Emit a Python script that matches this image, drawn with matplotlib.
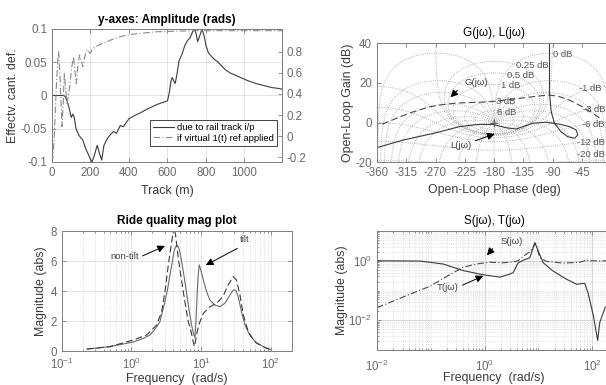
import numpy as np
import matplotlib
matplotlib.use('Agg')
import matplotlib.pyplot as plt
from matplotlib.ticker import FixedLocator, NullFormatter, LogLocator

plt.rcParams['font.family'] = ['Liberation Sans', 'DejaVu Sans']
plt.rcParams['axes.unicode_minus'] = False
plt.rcParams['mathtext.fontset'] = 'custom'
plt.rcParams['mathtext.rm'] = 'Liberation Sans'

# ---- data: track response (top left) ----
track_x = [0, 60, 70, 80, 90, 100, 108, 115, 125, 140, 160, 175, 185, 198, 208, 220, 235, 248,
           258, 270, 285, 300, 320, 335, 355, 370, 400, 430, 460, 490, 520, 550, 580, 600,
           610, 618, 625, 632, 640, 648, 660, 675, 690, 705, 718, 728, 738, 748, 757, 768,
           779, 790, 800, 813, 828, 845, 860, 880, 900, 925, 950, 980, 1020, 1060, 1100,
           1140, 1180, 1195]
track_cant = [0, 0, -0.002, -0.01, -0.02, -0.033, -0.028, -0.032, -0.05, -0.06, -0.067, -0.08,
              -0.086, -0.095, -0.1, -0.09, -0.075, -0.088, -0.097, -0.075, -0.066, -0.06,
              -0.054, -0.057, -0.045, -0.047, -0.035, -0.03, -0.026, -0.021, -0.017, -0.013,
              -0.01, -0.008, 0.005, 0.022, 0.027, 0.022, 0.018, 0.03, 0.052, 0.062, 0.075,
              0.083, 0.087, 0.094, 0.1, 0.094, 0.081, 0.09, 0.1, 0.09, 0.075, 0.064, 0.059,
              0.054, 0.051, 0.045, 0.039, 0.034, 0.031, 0.027, 0.022, 0.018, 0.015, 0.012,
              0.0105, 0.0095]
step_x = [0, 5, 12, 22, 30, 34.5, 42, 52, 58, 64, 71, 78, 85, 92, 102, 112, 119, 126, 134,
          143, 151, 160, 170, 181, 190, 199, 212, 225, 250, 285, 330, 389, 460, 545, 640,
          750, 1195]
step_resp = [-0.245, -0.2, 0.0, 0.45, 0.72, 0.8, 0.55, 0.09, 0.3, 0.596, 0.45, 0.31, 0.38,
             0.47, 0.65, 0.754, 0.62, 0.5, 0.66, 0.77, 0.72, 0.66, 0.75, 0.817, 0.8, 0.786,
             0.83, 0.848, 0.87, 0.896, 0.93, 0.96, 0.975, 0.99, 0.995, 1.0, 1.0]
left_ticks = [-0.1, -0.05, 0, 0.05, 0.1]
left_labels = ['-0.1', '-0.05', '0', '0.05', '0.1']
right_ticks = [-0.2, 0, 0.2, 0.4, 0.6, 0.8]
right_labels = ['-0.2', '0', '0.2', '0.4', '0.6', '0.8']

# ---- data: Nichols (top right) ----
g_phase = [-352, -330, -304, -279, -253, -228, -202, -182, -151, -120, -97, -82, -64, -44, -28, -18]
g_gain = [-0.8, 2.2, 5.5, 8.0, 9.4, 10.0, 10.3, 10.7, 11.8, 13.1, 13.9, 13.4, 11.4, 8.0, 4.7, 2.5]
l_phase = [-94.6, -94.6, -92, -87, -77, -66.5, -56, -51, -53.6, -64, -79, -99.7, -120, -135.6,
           -146, -161, -182, -202, -213, -233, -269, -320, -360]
l_gain = [45, 15, 5.5, -0.3, -4.6, -7.1, -7.9, -6.2, -3.7, -2.0, -0.8, 0.2, -0.3, -2.0,
          -3.2, -2.6, -0.9, -0.9, -1.2, -2.0, -5.1, -8.8, -12.6]
grid_db = [6, 3, 1, 0.5, 0.25, 0, -1, -3, -6, -12, -20, -40]
grid_deg = [-1, -5, -10, -20, -30, -45, -60, -90, -120, -150, -180, -210, -240, -270, -300,
            -315, -330, -340, -350, -355, -359]
db_labels = ['0 dB', '0.25 dB', '0.5 dB', '1 dB', '-1 dB', '3 dB', '6 dB', '-3 dB', '-6 dB',
             '-12 dB', '-20 dB']
db_label_phase = [-74.7, -120.7, -138.6, -154, -31.3, -161.7, -160.6, -26, -27.1, -31.3, -31.3]
db_label_gain = [34.6, 28.7, 24.0, 18.5, 17.3, 10.6, 5.0, 6.7, -0.7, -10.1, -16.3]

# ---- data: ride quality (bottom left) ----
tilt_f = [0.23, 0.49, 1.06, 1.5, 1.85, 2.3, 2.57, 3.03, 3.3, 3.58, 3.85, 4.08, 4.3, 4.5, 4.75,
          5.0, 5.3, 5.7, 6.17, 6.7, 7.33, 7.8, 8.17, 8.5, 8.8, 9.1, 9.42, 9.8, 10.8, 12.0, 13.4,
          15.8, 18.7, 22, 26, 29, 31.5, 34.2, 38, 42.6, 50, 63, 88, 100]
tilt_m = [0.13, 0.29, 0.6, 0.85, 1.07, 1.6, 1.96, 3.3, 4.1, 5.08, 5.9, 6.64, 6.95, 7.05, 6.95,
          6.55, 5.9, 5.0, 3.94, 2.8, 1.72, 1.15, 0.9, 2.2, 3.9, 5.1, 5.75, 5.5, 4.75, 3.96, 3.4,
          3.07, 2.96, 3.19, 3.74, 4.08, 4.05, 3.63, 2.63, 1.74, 1.07, 0.51, 0.18, 0.1]
nontilt_f = [0.23, 0.49, 1.06, 1.66, 2.31, 2.72, 3.03, 3.39, 3.79, 4.08, 4.3, 4.71, 5.1, 5.56,
             6.0, 6.56, 7.2, 7.73, 8.0, 8.3, 8.8, 9.64, 10.8, 13.4, 16.7, 20.6, 24.4, 29, 32.2,
             36.2, 40.4, 47.6, 59, 83, 100]
nontilt_m = [0.13, 0.29, 0.73, 1.07, 1.74, 2.63, 3.96, 5.75, 7.3, 8.3, 7.8, 6.2, 5.1, 3.96,
             3.0, 1.96, 1.3, 0.6, 0.3, 0.6, 1.3, 1.96, 2.52, 2.96, 3.19, 3.63, 4.41, 4.97, 4.75,
             3.74, 2.41, 1.29, 0.62, 0.22, 0.1]

# ---- data: S and T (bottom right) ----
s_f = [0.01, 0.0304, 0.0955, 0.224, 0.398, 0.7, 1.23, 2.17, 3.31, 4.17, 5.13, 6.92, 7.76,
       8.61, 9.12, 10, 10.7, 14, 28.5, 58.3, 72.4, 77.6, 85.1, 102, 250]
s_m = [0.0263, 0.0603, 0.138, 0.339, 0.603, 0.776, 0.891, 0.851, 0.912, 1.0, 1.38, 2.0, 2.63,
       3.98, 3.55, 1.78, 1.26, 0.955, 0.832, 0.891, 1.0, 1.1, 0.977, 1.0, 1.0]
t_f = [0.01, 0.063, 0.17, 0.398, 0.933, 1.93, 2.92, 3.39, 3.98, 4.22, 5.25, 6.92, 7.94, 8.61,
       9.93, 12.3, 18.8, 33.1, 51.3, 63.1, 72.4, 83.2, 105, 126, 138, 174, 250]
t_m = [1.0, 0.977, 0.776, 0.468, 0.339, 0.282, 0.355, 0.398, 0.708, 0.851, 1.047, 1.26, 2.69,
       3.98, 2.09, 0.851, 0.447, 0.24, 0.162, 0.17, 0.174, 0.085, 0.0141, 0.0021, 0.0085,
       0.0269, 0.045]

AX_COL = '#7f7f7f'
TICK_COL = '#6a6a6a'
LAB_COL = '#3a3a3a'
GRID_COL = '#dedede'
FS = 8.3
SMALL = 6.8

W, H = 606.0, 385.0


def box(l, t, r, b):
    return [l / W, 1 - b / H, (r - l) / W, (b - t) / H]


def style(ax):
    for s in ax.spines.values():
        s.set_color(AX_COL)
        s.set_linewidth(0.7)
    ax.tick_params(which='both', direction='in', colors=AX_COL, labelcolor=TICK_COL,
                   labelsize=FS, top=True, right=True, width=0.6)
    ax.tick_params(which='major', length=3)
    ax.tick_params(which='minor', length=1.5)
    ax.set_axisbelow(True)


def arrow(ax, txt, text_xy, tail, head):
    ax.text(text_xy[0], text_xy[1], txt, fontsize=SMALL, color='#404040', ha='center', va='center')
    ax.annotate('', xy=head, xytext=tail,
                arrowprops=dict(arrowstyle='-|>', color='k', lw=0.7, mutation_scale=11))


fig = plt.figure(figsize=(6.06, 3.85), dpi=100)

# ---------- top left ----------
ax1 = fig.add_axes(box(52, 29, 282, 162))
style(ax1)
ax1.tick_params(right=False)
l1, = ax1.plot(track_x, track_cant, '-', color='#3c3c3c', lw=0.8)
ax1.set_xlim(0, 1195)
ax1.set_ylim(-0.1, 0.1)
ax1.set_xticks([0, 200, 400, 600, 800, 1000])
ax1.set_yticks(left_ticks)
ax1.set_yticklabels(left_labels)
ax1.grid(True, color=GRID_COL, lw=0.6)
ax1.set_title('y-axes: Amplitude (rads)', fontsize=FS + 0.2, fontweight='bold', pad=4)
ax1.set_xlabel('Track (m)', fontsize=FS + 0.6, color=LAB_COL)
ax1.set_ylabel('Effectv. cant. def.', fontsize=FS + 0.6, color=LAB_COL)
ax1.yaxis.set_label_coords(-0.143, 0.5)
ax1.xaxis.set_label_coords(0.5, -0.17)
ax1r = ax1.twinx()
style(ax1r)
ax1r.tick_params(left=False, top=False)
l2, = ax1r.plot(step_x, step_resp, linestyle=(0, (6, 2, 1, 2)), color='#8a8a8a', lw=0.8)
ax1r.set_ylim(-0.245, 1.016)
ax1r.set_yticks(right_ticks)
ax1r.set_yticklabels(right_labels)
leg = ax1r.legend([l1, l2], ['due to rail track i/p', 'if virtual 1(t) ref applied'],
                  loc='lower right', bbox_to_anchor=(0.977, 0.12), borderaxespad=0,
                  fontsize=SMALL, fancybox=False, framealpha=1, edgecolor='#262626',
                  handlelength=2.2, labelspacing=0.2, borderpad=0.35, handletextpad=0.3)
leg.get_frame().set_linewidth(0.6)

# ---------- top right: Nichols ----------
ax2 = fig.add_axes(box(377, 43.3, 611, 162.3))
style(ax2)
for db in grid_db:
    m = 10 ** (db / 20.0)
    th = np.radians(np.linspace(-359.999, -0.001, 2000))
    T = m * np.exp(1j * th)
    if abs(m - 1) < 1e-9:
        th = np.radians(np.linspace(-359.5, -0.5, 2000))
        T = np.exp(1j * th)
    L = T / (1 - T)
    ph = np.degrees(np.unwrap(np.angle(L)))
    if m > 1:
        ph = ph - 360 * np.round((ph.mean() + 180) / 360)
    else:
        ph = ph - 360 * np.floor((ph.max() + 1e-6) / 360) - (360 if ph.max() > 1e-3 else 0)
    ax2.plot(ph, 20 * np.log10(np.abs(L)), ':', color='#9a9a9a', lw=0.6)
for deg in grid_deg:
    r = np.logspace(-3, 3, 2000)
    T = r * np.exp(1j * np.radians(deg))
    L = T / (1 - T)
    ph = np.degrees(np.unwrap(np.angle(L)))
    ph = ph - 360 * np.round((ph[-1] + 180) / 360)
    ax2.plot(ph, 20 * np.log10(np.abs(L)), ':', color='#9a9a9a', lw=0.6)
ax2.plot(g_phase, g_gain, '--', color='#4a4a4a', lw=0.8, dashes=(6, 3))
ax2.plot(l_phase, l_gain, '-', color='#3a3a3a', lw=0.8)
ax2.plot([-180], [0], '+', color='#606060', ms=6, mew=0.7)
for txt, px, py in zip(db_labels, db_label_phase, db_label_gain):
    ax2.text(px, py, txt, fontsize=SMALL, color='#555555', ha='center', va='center')
arrow(ax2, 'G(j\u03c9)', (-207.7, 20.1), (-233, 17.3), (-250, 11.8))
arrow(ax2, 'L(j\u03c9)', (-230.7, -11.3), (-212.7, -9.6), (-175, -5.2))
ax2.set_xlim(-360, 0)
ax2.set_ylim(-20, 40)
ax2.set_xticks(np.arange(-360, 1, 45))
ax2.set_yticks([-20, 0, 20, 40])
ax2.set_title('G(j\u03c9), L(j\u03c9)', fontsize=FS + 0.2, pad=5)
ax2.set_xlabel('Open-Loop Phase (deg)', fontsize=FS + 0.6, color=LAB_COL)
ax2.set_ylabel('Open-Loop Gain (dB)', fontsize=FS + 0.6, color=LAB_COL)
ax2.xaxis.set_label_coords(0.5, -0.18)
ax2.yaxis.set_label_coords(-0.098, 0.5)

# ---------- bottom left ----------
ax3 = fig.add_axes(box(61.7, 231.3, 291.7, 351))
style(ax3)
ax3.semilogx(tilt_f, tilt_m, '-', color='#6a6a6a', lw=0.8)
ax3.semilogx(nontilt_f, nontilt_m, '--', color='#3a3a3a', lw=0.8, dashes=(6, 3))
ax3.set_xlim(0.1, 200)
ax3.set_ylim(0, 8)
ax3.set_yticks([0, 2, 4, 6, 8])
ax3.xaxis.set_minor_locator(LogLocator(base=10, subs=np.arange(2, 10)))
ax3.xaxis.set_minor_formatter(NullFormatter())
ax3.tick_params(axis='x', pad=4.5)
ax3.grid(True, which='major', color=GRID_COL, lw=0.6)
ax3.grid(True, which='minor', axis='x', color='#c8c8c8', lw=0.5, linestyle=':')
arrow(ax3, 'non-tilt', (0.81, 6.33), (1.33, 6.28), (3.3, 7.1))
arrow(ax3, 'tilt', (42.7, 7.44), (36.1, 6.95), (10.8, 5.65))
ax3.set_title('Ride quality mag plot', fontsize=FS + 0.2, fontweight='bold', pad=5)
ax3.set_xlabel('Frequency  (rad/s)', fontsize=FS + 0.6, color=LAB_COL)
ax3.set_ylabel('Magnitude (abs)', fontsize=FS + 0.6, color=LAB_COL)
ax3.xaxis.set_label_coords(0.5, -0.185)
ax3.yaxis.set_label_coords(-0.062, 0.5)

# ---------- bottom right ----------
ax4 = fig.add_axes(box(377, 231, 611, 350))
style(ax4)
ax4.loglog(s_f, s_m, color='#4a4a4a', lw=0.8, linestyle=(0, (6, 2, 1, 2)))
ax4.loglog(t_f, t_m, '-', color='#3a3a3a', lw=0.8)
ax4.set_xlim(0.01, 223)
ax4.set_ylim(1e-3, 10)
ax4.xaxis.set_major_locator(FixedLocator([1e-2, 1, 1e2]))
ax4.yaxis.set_major_locator(FixedLocator([1e-2, 1]))
ax4.xaxis.set_minor_locator(FixedLocator([k * 10.0 ** e for e in range(-2, 3) for k in range(1, 10)
                                          if not (k == 1 and e % 2 == 0)]))
ax4.yaxis.set_minor_locator(FixedLocator([k * 10.0 ** e for e in range(-3, 2) for k in range(1, 10)
                                          if not (k == 1 and e % 2 == 0)]))
ax4.xaxis.set_minor_formatter(NullFormatter())
ax4.yaxis.set_minor_formatter(NullFormatter())
ax4.tick_params(axis='x', pad=6)
ax4.grid(True, which='major', color='#d0d0d0', lw=0.6)
ax4.grid(True, which='minor', color='#cfcfcf', lw=0.5, linestyle=':')
arrow(ax4, 'S(j\u03c9)', (3.16, 4.37), (1.54, 3.02), (1.02, 1.3))
arrow(ax4, 'T(j\u03c9)', (0.209, 0.123), (0.347, 0.138), (1.05, 0.34))
ax4.set_title('S(j\u03c9), T(j\u03c9)', fontsize=FS + 0.2, pad=5)
ax4.set_xlabel('Frequency  (rad/s)', fontsize=FS + 0.6, color=LAB_COL)
ax4.set_ylabel('Magnitude (abs)', fontsize=FS + 0.6, color=LAB_COL)
ax4.xaxis.set_label_coords(0.5, -0.185)
ax4.yaxis.set_label_coords(-0.122, 0.5)

fig.savefig('out.png', dpi=100)
